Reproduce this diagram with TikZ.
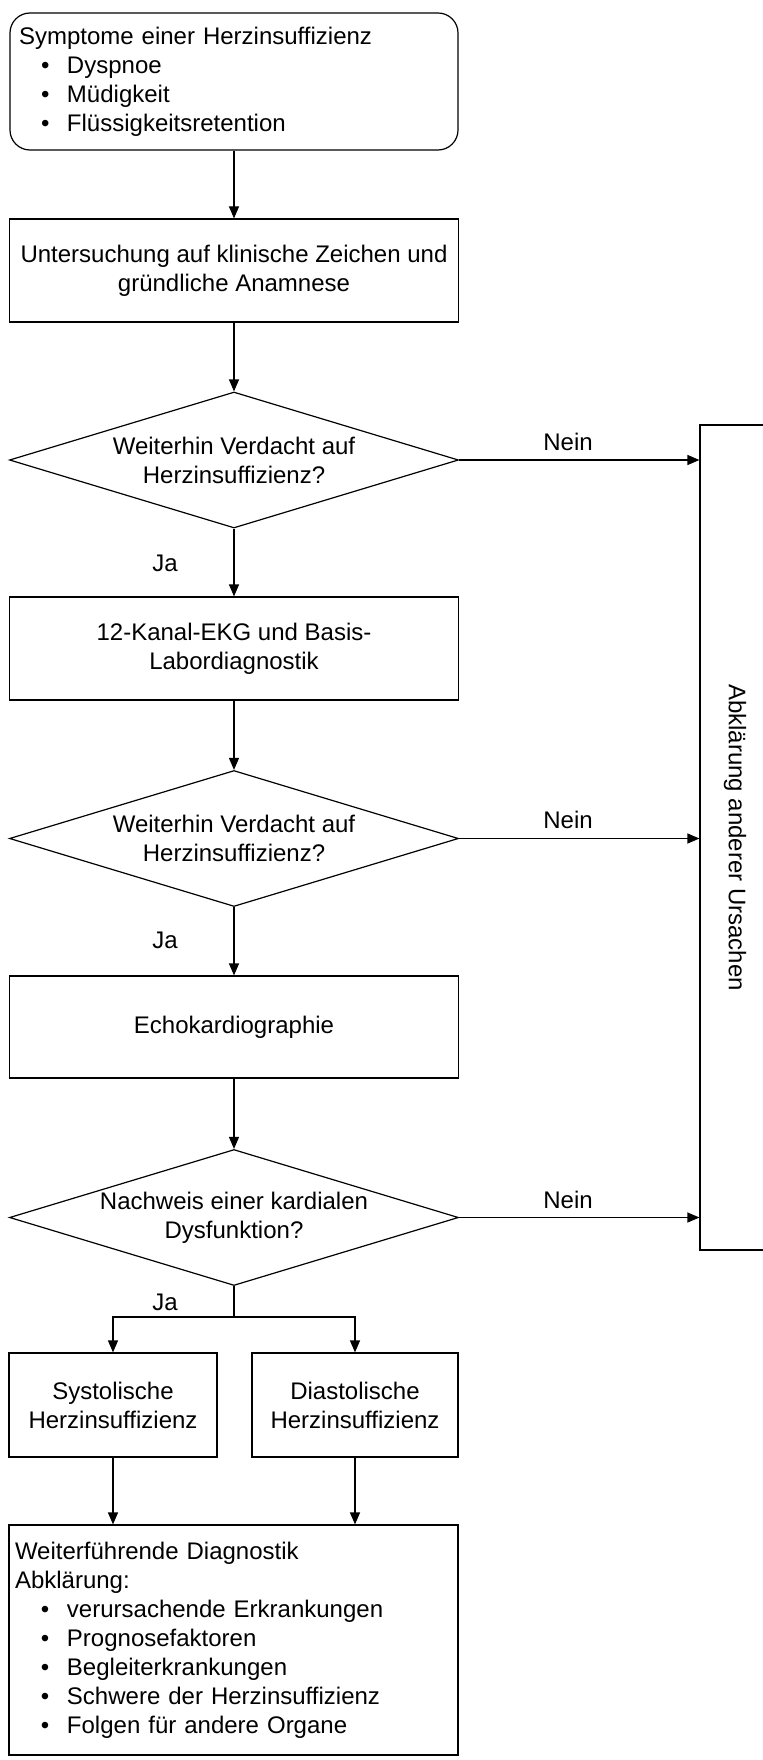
\documentclass[tikz,border=0pt]{standalone}
\usepackage{fontspec}
\setmainfont{Liberation Sans}
\usetikzlibrary{shapes.geometric,arrows.meta}
\newcommand\blt[1]{\hspace*{#1}\makebox[13pt][l]{\textbullet}}
\begin{document}
\begin{tikzpicture}[x=0.5pt,y=-0.5pt,
  font=\fontsize{12}{14.5}\selectfont,
  box/.style={draw, line width=0.6pt, inner sep=0pt, align=center},
  dia/.style={draw, diamond, aspect=3.3, inner sep=0pt, line width=0.6pt,
    align=center, minimum width=224.5pt, minimum height=68pt},
  arr/.style={line width=0.6pt, -{Triangle[length=6pt,width=5pt]}},
  plain/.style={line width=0.6pt},
  lbl/.style={inner sep=0pt}]
\useasboundingbox (0,0) rectangle (763,1760);
\clip (0,0) rectangle (763,1760);
\fill[white] (0,0) rectangle (763,1760);

\node[box, rounded corners=10pt, minimum width=224pt, minimum height=68.5pt,
  inner xsep=4.5pt, text width=215pt, align=left] (sym) at (234,81.5)
  {Symptome einer Herzinsuffizienz\\
   \blt{11pt}Dyspnoe\\
   \blt{11pt}Müdigkeit\\
   \blt{11pt}Flüssigkeitsretention};

\node[box, minimum width=224.5pt, minimum height=51.5pt] (exam) at (234,270.5)
  {Untersuchung auf klinische Zeichen und\\gründliche Anamnese};

\node[dia] (dia1) at (234,460) {Weiterhin Verdacht auf\\Herzinsuffizienz?};

\node[box, minimum width=224.5pt, minimum height=51.5pt] (ekg) at (234,648.5)
  {12-Kanal-EKG und Basis-\\Labordiagnostik};

\node[dia] (dia2) at (234,838.5) {Weiterhin Verdacht auf\\Herzinsuffizienz?};

\node[box, minimum width=224.5pt, minimum height=51pt] (echo) at (234,1027)
  {Echokardiographie};

\node[dia] (dia3) at (234,1217.5) {Nachweis einer kardialen\\Dysfunktion?};

\coordinate (split) at (234,1317);

\node[box, minimum width=104pt, minimum height=52pt] (sys) at (113,1405)
  {Systolische\\Herzinsuffizienz};
\node[box, minimum width=103pt, minimum height=52pt] (dias) at (355,1405)
  {Diastolische\\Herzinsuffizienz};

\node[box, minimum width=224.5pt, minimum height=115pt, inner xsep=3pt,
  text width=218.5pt, align=left] (bot) at (233.5,1640)
  {Weiterführende Diagnostik\\
   Abklärung:\\
   \blt{13pt}verursachende Erkrankungen\\
   \blt{13pt}Prognosefaktoren\\
   \blt{13pt}Begleiterkrankungen\\
   \blt{13pt}Schwere der Herzinsuffizienz\\
   \blt{13pt}Folgen für andere Organe};

\node[box, rotate=-90, minimum width=412.5pt, minimum height=35pt] (other)
  at (735,837.5) {Abklärung anderer Ursachen};

% connectors
\draw[arr] (sym.south) -- (exam.north);
\draw[arr] (exam.south) -- (dia1.north);
\draw[arr] (dia1.south) -- (ekg.north);
\draw[arr] (ekg.south) -- (dia2.north);
\draw[arr] (dia2.south) -- (echo.north);
\draw[arr] (echo.south) -- (dia3.north);
\draw[plain] (dia3.south) -- (split);
\draw[arr] (split) -| (sys.north);
\draw[arr] (split) -| (dias.north);
\draw[arr] (sys.south) -- (sys.south |- bot.north);
\draw[arr] (dias.south) -- (dias.south |- bot.north);
\draw[arr] (dia1.east) -- (dia1.east -| other.south);
\draw[arr] (dia2.east) -- (dia2.east -| other.south);
\draw[arr] (dia3.east) -- (dia3.east -| other.south);

% labels
\node[lbl] (ja1) at (165,563) {Ja};
\node[lbl] (ja2) at (165,940) {Ja};
\node[lbl] (ja3) at (165,1302) {Ja};
\node[lbl] (nein1) at (568,442) {Nein};
\node[lbl] (nein2) at (568,820) {Nein};
\node[lbl] (nein3) at (568,1200) {Nein};
\end{tikzpicture}
\end{document}
